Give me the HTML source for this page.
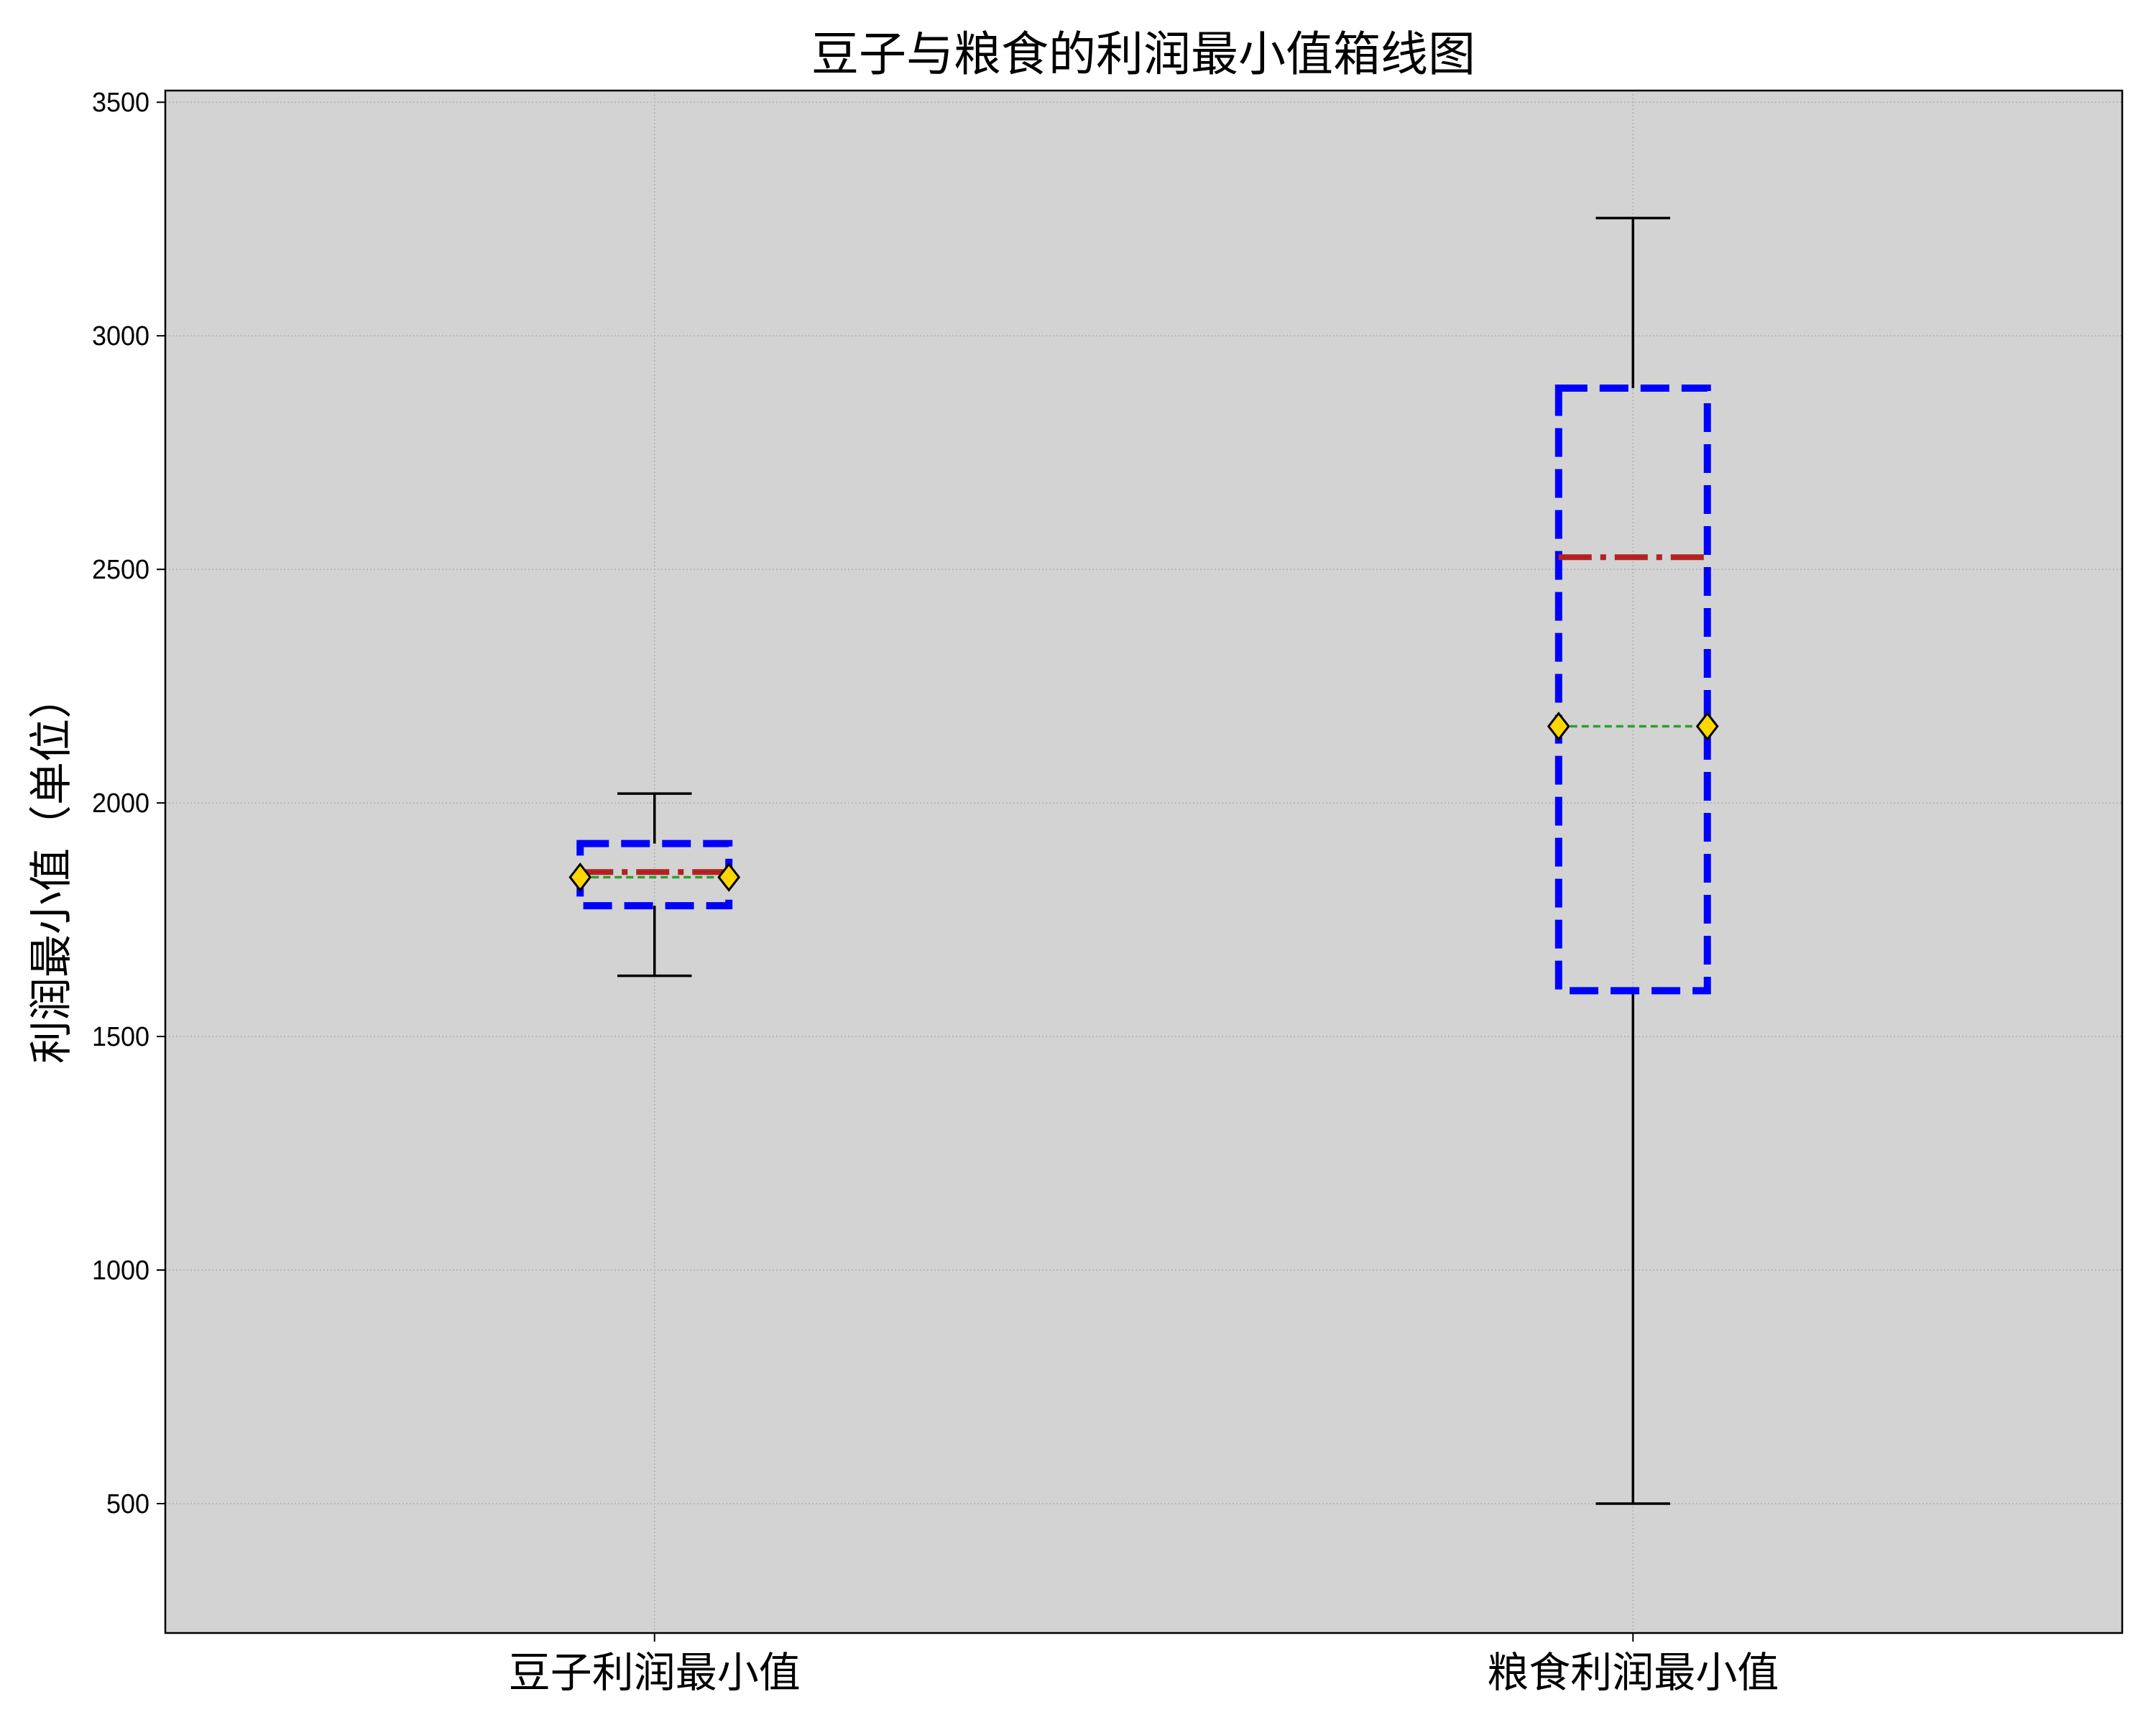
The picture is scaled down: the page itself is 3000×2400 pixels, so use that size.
<!DOCTYPE html>
<html><head><meta charset="utf-8"><style>
body{margin:0;background:#fff}
svg{display:block}
text{font-family:"Liberation Sans","Noto Sans CJK SC",sans-serif}
</style></head><body>
<svg id="chart" width="3000" height="2400" viewBox="0 0 3000 2400" xmlns="http://www.w3.org/2000/svg">
<rect width="3000" height="2400" fill="#fff"/>
<rect x="230" y="126" width="2723" height="2146" fill="#d3d3d3"/>
<g id="grid"></g><g id="marks"></g><g id="axes"></g>
<text x="1591" y="98" font-size="66" text-anchor="middle">豆子与粮食的利润最小值箱线图</text>
<text x="0" y="0" font-size="60" text-anchor="middle" transform="translate(92,1210) rotate(-90)">利润最小值（单位）</text>
</svg>
<script>
const categories = ["豆子利润最小值", "粮食利润最小值"];
const whiskerLow = [1630, 500];
const q1Values = [1780, 1598];
const medianValues = [1852, 2526];
const meanValues = [1841, 2164];
const q3Values = [1913, 2888];
const whiskerHigh = [2020, 3252];
const yTicks = [500, 1000, 1500, 2000, 2500, 3000, 3500];

const L=230,R=2953,T=126,B=2272;
const yMin=223, yMax=3525, xMin=0.5, xMax=2.5;
const ys=v=>B-(v-yMin)/(yMax-yMin)*(B-T);
const xs=v=>L+(v-xMin)/(xMax-xMin)*(R-L);
const NS="http://www.w3.org/2000/svg";
function mk(parent,tag,attrs){const e=document.createElementNS(NS,tag);for(const k in attrs)e.setAttribute(k,attrs[k]);document.getElementById(parent).appendChild(e);return e;}

yTicks.forEach(t=>{
  const y=ys(t);
  const g=mk('grid','line',{x1:L,x2:R,y1:y,y2:y,stroke:'#b0b0b0','stroke-width':1.5,'stroke-dasharray':'2,3'});
  
  
  const tk=mk('axes','line',{x1:L-12,x2:L,y1:y,y2:y,stroke:'#000','stroke-width':2});
  
  
  const s=String(t);
  const tx=mk('axes','text',{x:L-22,y:y+13,'font-size':38,'text-anchor':'end',textLength:20*s.length,lengthAdjust:'spacingAndGlyphs'});
  tx.textContent=s;
  
  
});
categories.forEach((c,i)=>{
  const x=xs(i+1);
  const g=mk('grid','line',{x1:x,x2:x,y1:T,y2:B,stroke:'#b0b0b0','stroke-width':1.5,'stroke-dasharray':'2,3'});
  
  
  const tk=mk('axes','line',{x1:x,x2:x,y1:B,y2:B+12,stroke:'#000','stroke-width':2});
  
  
  const tx=mk('axes','text',{x:x,y:B+75,'font-size':58,'text-anchor':'middle'});
  tx.textContent=c;
  
  

  const hw=xs(i+1+0.076)-x, cw=xs(i+1+0.038)-x;
  const w1=mk('marks','line',{x1:x,x2:x,y1:ys(whiskerLow[i]),y2:ys(q1Values[i]),stroke:'#000','stroke-width':3.5});
  
  
  const w2=mk('marks','line',{x1:x,x2:x,y1:ys(whiskerHigh[i]),y2:ys(q3Values[i]),stroke:'#000','stroke-width':3.5});
  
  
  const c1=mk('marks','line',{x1:x-cw,x2:x+cw,y1:ys(whiskerLow[i]),y2:ys(whiskerLow[i]),stroke:'#000','stroke-width':3.5});
  
  
  const c2=mk('marks','line',{x1:x-cw,x2:x+cw,y1:ys(whiskerHigh[i]),y2:ys(whiskerHigh[i]),stroke:'#000','stroke-width':3.5});
  
  
  const bx=mk('marks','rect',{x:x-hw,y:ys(q3Values[i]),width:2*hw,height:ys(q1Values[i])-ys(q3Values[i]),fill:'none',stroke:'#0000ff','stroke-width':10,'stroke-dasharray':'40,17'});
  
  
  const md=mk('marks','line',{x1:x-hw,x2:x+hw,y1:ys(medianValues[i]),y2:ys(medianValues[i]),stroke:'#b22222','stroke-width':8,'stroke-dasharray':'46,12,8,12'});
  
  
  const mn=mk('marks','line',{x1:x-hw,x2:x+hw,y1:ys(meanValues[i]),y2:ys(meanValues[i]),stroke:'#2ca02c','stroke-width':3.5,'stroke-dasharray':'10,6'});
  
  
  [x-hw,x+hw].forEach(px=>{
    const y=ys(meanValues[i]);
    const d=mk('marks','polygon',{points:`${px},${y-18} ${px+14},${y} ${px},${y+18} ${px-14},${y}`,fill:'#ffd700',stroke:'#000','stroke-width':3});
    
    
  });
});
const fr=mk('axes','rect',{x:L,y:T,width:R-L,height:B-T,fill:'none',stroke:'#000','stroke-width':2.5});


</script>
</body></html>
